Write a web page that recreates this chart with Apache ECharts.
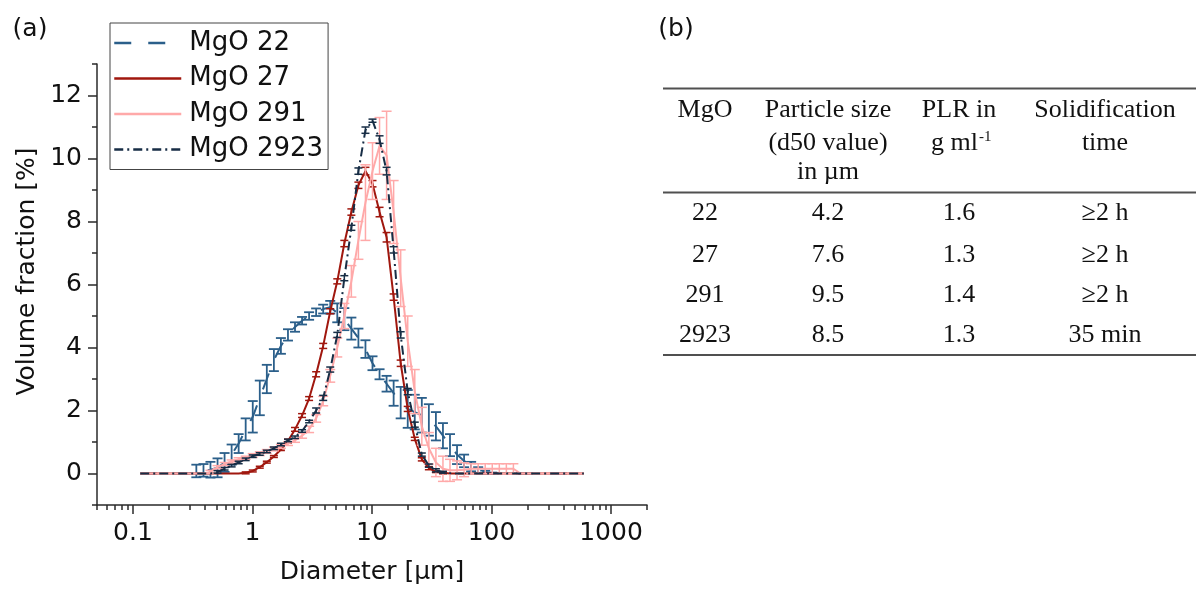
<!DOCTYPE html>
<html>
<head>
<meta charset="utf-8">
<script src="https://cdn.jsdelivr.net/npm/echarts@6/dist/echarts.min.js"></script>
<style>
html,body{margin:0;padding:0;background:#ffffff;}
#chart{width:1198px;height:590px;}
</style>
</head>
<body>
<div id="chart"></div>
<script>
// ---------- DATA ----------
const diameters = [0.115,0.131,0.150,0.172,0.197,0.226,0.259,0.296,0.339,0.389,0.445,0.510,0.584,0.669,0.766,0.877,1.005,1.151,1.318,1.510,1.729,1.981,2.269,2.599,2.976,3.409,3.905,4.472,5.122,5.867,6.720,7.697,8.816,10.097,11.565,13.246,15.172,17.377,19.904,22.797,26.111,29.907,34.255,39.234,44.938,51.471,58.953,67.523,77.339,88.583,101.46,116.21,133.10,152.45,174.62,200.00,229.08,262.38,300.52,344.21,394.24,451.56,517.20,592.39];

const mgo22 = [0,0,0,0,0,0,0,0,0.08,0.10,0.12,0.18,0.35,0.60,0.95,1.40,1.80,2.40,3.00,3.60,4.05,4.40,4.65,4.85,5.00,5.12,5.22,5.28,5.10,4.90,4.60,4.30,3.95,3.50,3.15,2.85,2.55,2.25,2.05,1.95,1.85,1.70,1.50,1.20,0.90,0.60,0.40,0.22,0.10,0.04,0.01,0,0,0,0,0,0,0,0,0,0,0,0,0];
const mgo22Err = [0,0,0,0,0,0,0,0,0.20,0.20,0.25,0.30,0.30,0.32,0.30,0.35,0.50,0.55,0.45,0.35,0.25,0.18,0.15,0.12,0.12,0.12,0.14,0.20,0.30,0.35,0.35,0.30,0.28,0.22,0.16,0.25,0.40,0.50,0.60,0.55,0.55,0.50,0.45,0.40,0.35,0.30,0.20,0.15,0.10,0.05,0.02,0,0,0,0,0,0,0,0,0,0,0,0,0];

const mgo27 = [0,0,0,0,0,0,0,0,0,0,0,0,0,0,0,0.02,0.08,0.20,0.36,0.54,0.76,1.03,1.40,1.84,2.38,3.15,4.05,5.15,6.10,7.30,8.30,9.15,9.60,9.20,8.30,7.50,5.60,3.50,2.05,1.10,0.45,0.17,0.06,0.02,0,0,0,0,0,0,0,0,0,0,0,0,0,0,0,0,0,0,0,0];
const mgo27Err = [0,0,0,0,0,0,0,0,0,0,0,0,0,0,0,0.03,0.03,0.03,0.03,0.03,0.03,0.06,0.06,0.06,0.06,0.08,0.08,0.08,0.08,0.10,0.10,0.10,0.12,0.10,0.15,0.15,0.10,0.10,0.08,0.05,0.05,0.05,0.03,0.03,0,0,0,0,0,0,0,0,0,0,0,0,0,0,0,0,0,0,0,0];

const mgo291 = [0,0,0,0,0,0,0,0,0,0,0.05,0.20,0.30,0.38,0.45,0.50,0.57,0.63,0.70,0.78,0.86,0.95,1.05,1.20,1.40,1.75,2.30,3.10,4.00,5.00,6.10,7.40,8.60,9.60,10.40,10.10,8.30,6.20,4.20,2.60,1.50,0.80,0.35,0.15,0.10,0.10,0.12,0.15,0.15,0.15,0.15,0.15,0.15,0.15,0,0,0,0,0,0,0,0,0,0];
const mgo291Err = [0,0,0,0,0,0,0,0,0,0,0.05,0.05,0.05,0.05,0.05,0.05,0.06,0.06,0.06,0.06,0.06,0.06,0.06,0.08,0.10,0.12,0.15,0.20,0.30,0.40,0.50,0.60,1.20,0.90,0.90,1.40,1.00,0.90,0.80,0.70,0.60,0.50,0.45,0.40,0.35,0.30,0.22,0.16,0.16,0.16,0.16,0.16,0.16,0.16,0,0,0,0,0,0,0,0,0,0];

const mgo2923 = [0,0,0,0,0,0,0,0,0,0,0,0.05,0.15,0.25,0.35,0.45,0.55,0.62,0.70,0.80,0.92,1.05,1.15,1.35,1.65,2.00,2.40,3.30,4.40,6.20,7.80,9.60,10.90,11.20,10.60,9.60,7.10,4.40,2.60,1.55,0.60,0.25,0.10,0.04,0.01,0,0,0,0,0,0,0,0,0,0,0,0,0,0,0,0,0,0,0];
const mgo2923Err = [0,0,0,0,0,0,0,0,0,0,0,0.04,0.04,0.04,0.04,0.04,0.04,0.04,0.04,0.04,0.04,0.04,0.04,0.04,0.04,0.08,0.08,0.08,0.08,0.08,0.08,0.10,0.10,0.05,0.12,0.12,0.10,0.10,0.10,0.08,0.05,0.05,0.05,0.03,0,0,0,0,0,0,0,0,0,0,0,0,0,0,0,0,0,0,0,0];

const seriesNames = ['MgO 22','MgO 27','MgO 291','MgO 2923'];

const xTickLabels = [0.1, 1, 10, 100, 1000];
const xMinorTicks = [0.05,0.06,0.07,0.08,0.09,0.2,0.3,0.4,0.5,0.6,0.7,0.8,0.9,2,3,4,5,6,7,8,9,20,30,40,50,60,70,80,90,200,300,400,500,600,700,800,900,2000];
const yTickLabels = [0, 2, 4, 6, 8, 10, 12];
const yMinorTicks = [-1, 1, 3, 5, 7, 9, 11, 13];

const tableHeader = [['MgO'], ['Particle size', '(d50 value)', 'in µm'], ['PLR in', 'g ml'], ['Solidification', 'time']];
const tableSuperscript = '-1';
const tableRows = [
  ['22', '4.2', '1.6', '≥2 h'],
  ['27', '7.6', '1.3', '≥2 h'],
  ['291', '9.5', '1.4', '≥2 h'],
  ['2923', '8.5', '1.3', '35 min']
];

// ---------- STYLES ----------
const styles = [
  {values: mgo22, errors: mgo22Err, color: '#2b5f8a', dash: [17, 17], cap: 5, ew: 1.8},
  {values: mgo27, errors: mgo27Err, color: '#a0170e', dash: 'solid', cap: 4, ew: 1.5},
  {values: mgo291, errors: mgo291Err, color: '#ffa9a9', dash: 'solid', cap: 5, ew: 1.5},
  {values: mgo2923, errors: mgo2923Err, color: '#172d45', dash: [9, 4, 2, 4], cap: 4, ew: 1.5}
];

const SANS = 'DejaVu Sans';
const SERIF = 'Liberation Serif';
const AXIS_COLOR = '#2a2a2a';

function errorRenderer(color, cap, lw) {
  return function (params, api) {
    const x = api.value(0), y = api.value(1), e = api.value(2);
    const top = api.coord([x, y + e]);
    const bot = api.coord([x, y - e]);
    const st = {stroke: color, lineWidth: lw, fill: null};
    return {
      type: 'group',
      children: [
        {type: 'line', shape: {x1: top[0], y1: top[1], x2: bot[0], y2: bot[1]}, style: st},
        {type: 'line', shape: {x1: top[0] - cap, y1: top[1], x2: top[0] + cap, y2: top[1]}, style: st},
        {type: 'line', shape: {x1: bot[0] - cap, y1: bot[1], x2: bot[0] + cap, y2: bot[1]}, style: st}
      ]
    };
  };
}

const series = [];
styles.forEach(function (s, i) {
  series.push({
    name: seriesNames[i],
    type: 'line',
    data: diameters.map(function (d, k) { return [d, s.values[k]]; }),
    showSymbol: false,
    symbol: 'none',
    smooth: false,
    lineStyle: {color: s.color, width: 2, type: s.dash},
    itemStyle: {color: s.color, opacity: 0},
    z: 2 + i * 2,
    silent: true
  });
  series.push({
    name: seriesNames[i] + ' error',
    type: 'custom',
    renderItem: errorRenderer(s.color, s.cap, s.ew),
    encode: {x: 0, y: 1},
    data: diameters.map(function (d, k) { return [d, s.values[k], s.errors[k]]; })
      .filter(function (p) { return p[2] > 0; }),
    z: 3 + i * 2,
    silent: true
  });
});

function fmtX(v) {
  let best = xTickLabels[0];
  xTickLabels.forEach(function (t) {
    if (Math.abs(Math.log10(t) - Math.log10(v)) < Math.abs(Math.log10(best) - Math.log10(v))) best = t;
  });
  return String(best);
}

// ---------- TABLE GRAPHICS ----------
const colX = [705, 828, 959, 1105];
const headerY = [110, 143, 172];
const rowY = [213, 255, 295, 335];
const ruleY = [88.5, 192.5, 355];
const ruleX = [663, 1196];
const graphics = [];
graphics.push({type: 'text', x: 30, y: 29, style: {text: '(a)', font: '25px "' + SANS + '"', fill: '#111', align: 'center', verticalAlign: 'middle'}});
graphics.push({type: 'text', x: 676, y: 29, style: {text: '(b)', font: '25px "' + SANS + '"', fill: '#111', align: 'center', verticalAlign: 'middle'}});
ruleY.forEach(function (y) {
  graphics.push({type: 'line', shape: {x1: ruleX[0], y1: y, x2: ruleX[1], y2: y}, style: {stroke: '#505050', lineWidth: 2}});
});
tableHeader.forEach(function (lines, c) {
  lines.forEach(function (t, l) {
    const isSup = (c === 2 && l === 1);
    graphics.push({type: 'text', x: isSup ? colX[c] - 4.5 : colX[c], y: headerY[l],
      style: {text: t, font: '26px "' + SERIF + '"', fill: '#111', align: 'center', verticalAlign: 'middle'}});
    if (isSup) {
      graphics.push({type: 'text', x: colX[c] + 20, y: headerY[l] - 6,
        style: {text: tableSuperscript, font: '15px "' + SERIF + '"', fill: '#111', align: 'left', verticalAlign: 'middle'}});
    }
  });
});
tableRows.forEach(function (row, r) {
  row.forEach(function (t, c) {
    graphics.push({type: 'text', x: colX[c], y: rowY[r],
      style: {text: t, font: '26px "' + SERIF + '"', fill: '#111', align: 'center', verticalAlign: 'middle'}});
  });
});

const axisLineStyle = {color: AXIS_COLOR, width: 1.5};

const option = {
  animation: false,
  backgroundColor: '#ffffff',
  grid: {left: 97, right: 551, top: 64, bottom: 82.5, containLabel: false},
  legend: {
    data: seriesNames,
    orient: 'vertical',
    left: 110, top: 23,
    itemWidth: 67, itemHeight: 14, itemGap: 9.5,
    padding: [7, 5, 7, 3],
    borderColor: '#444', borderWidth: 1,
    backgroundColor: '#ffffff',
    itemStyle: {opacity: 0},
    lineStyle: {width: 2.5},
    textStyle: {fontFamily: SANS, fontSize: 26, color: '#111', padding: [0, 0, 0, 3]},
    selectedMode: false
  },
  xAxis: [
    {
      type: 'log', logBase: 10, min: 0.05, max: 2000, position: 'bottom',
      name: 'Diameter [µm]', nameLocation: 'middle', nameGap: 55,
      nameTextStyle: {fontFamily: SANS, fontSize: 25, color: '#111'},
      axisLine: {show: true, onZero: false, lineStyle: axisLineStyle},
      axisTick: {show: true, length: 9, lineStyle: axisLineStyle, customValues: xTickLabels},
      axisLabel: {show: true, customValues: xTickLabels, formatter: fmtX, margin: 16, fontFamily: SANS, fontSize: 25, color: '#111'},
      splitLine: {show: false}, minorTick: {show: false}
    },
    {
      type: 'log', logBase: 10, min: 0.05, max: 2000, position: 'bottom',
      axisLine: {show: false, onZero: false},
      axisTick: {show: true, length: 5, lineStyle: axisLineStyle, customValues: xMinorTicks},
      axisLabel: {show: false},
      splitLine: {show: false}
    }
  ],
  yAxis: [
    {
      type: 'value', min: -1, max: 13, position: 'left',
      name: 'Volume fraction [%]', nameLocation: 'middle', nameGap: 57,
      nameTextStyle: {fontFamily: SANS, fontSize: 25, color: '#111', padding: [0, 0, 0, 26]},
      axisLine: {show: true, onZero: false, lineStyle: axisLineStyle},
      axisTick: {show: true, length: 9, lineStyle: axisLineStyle, customValues: yTickLabels},
      axisLabel: {show: true, customValues: yTickLabels, margin: 15, fontFamily: SANS, fontSize: 25, color: '#111'},
      splitLine: {show: false}
    },
    {
      type: 'value', min: -1, max: 13, position: 'left',
      axisLine: {show: false, onZero: false},
      axisTick: {show: true, length: 5, lineStyle: axisLineStyle, customValues: yMinorTicks},
      axisLabel: {show: false},
      splitLine: {show: false}
    }
  ],
  series: series,
  graphic: graphics
};

const chart = echarts.init(document.getElementById('chart'), null, {renderer: 'canvas', width: 1198, height: 590});
chart.setOption(option);
</script>
</body>
</html>
